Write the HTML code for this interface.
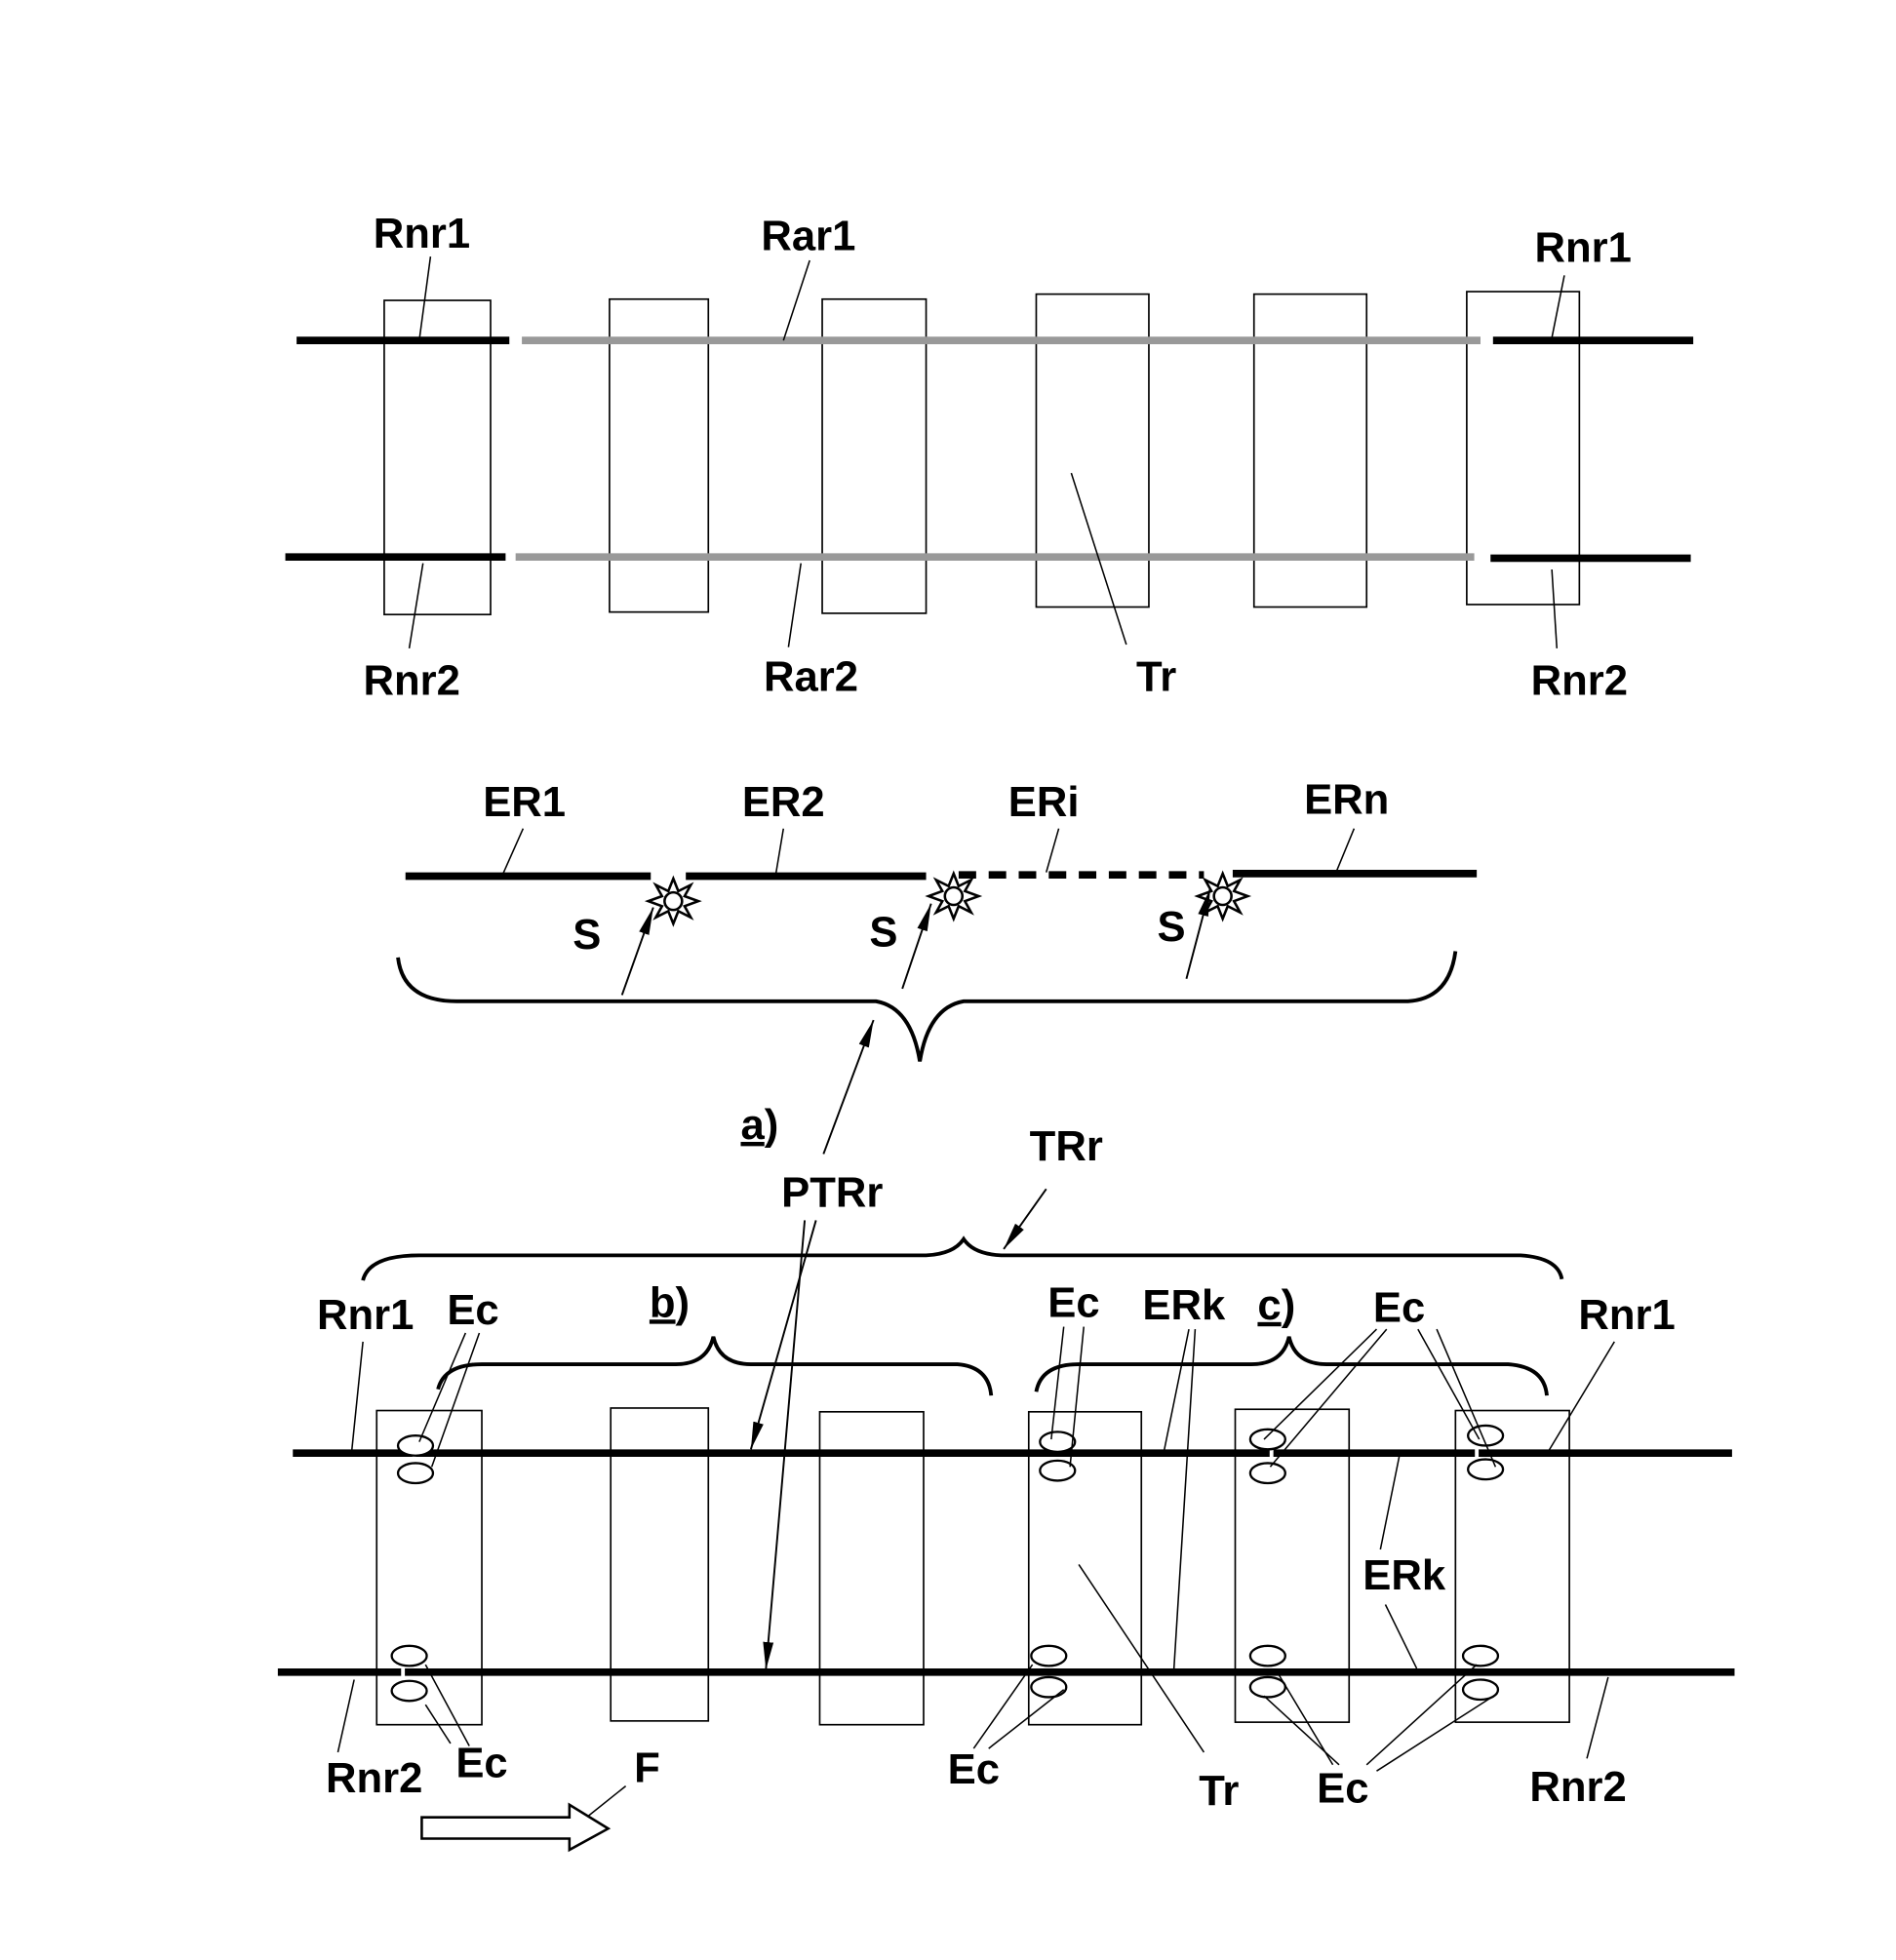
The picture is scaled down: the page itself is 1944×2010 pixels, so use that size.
<!DOCTYPE html>
<html><head><meta charset="utf-8"><style>
html,body{margin:0;padding:0;background:#fff;}
svg{display:block;}
text{font-family:"Liberation Sans",Arial,sans-serif;font-weight:bold;font-size:34px;fill:#000;text-anchor:middle;}
</style></head><body>
<svg width="1944" height="2010" viewBox="0 0 1515 1566" preserveAspectRatio="none" xmlns="http://www.w3.org/2000/svg">
<defs>
<marker id="ahl" viewBox="0 0 10 10" refX="10" refY="5" markerWidth="22" markerHeight="12" markerUnits="userSpaceOnUse" orient="auto" preserveAspectRatio="none"><path d="M0,1.5 L10,5 L0,8.5 z" fill="#000"/></marker>
</defs>
<g fill="none" stroke="#000" stroke-width="1.3">
<rect x="307" y="240" width="85" height="251"/>
<rect x="487" y="239" width="79" height="250"/>
<rect x="657" y="239" width="83" height="251"/>
<rect x="828" y="235" width="90" height="250"/>
<rect x="1002" y="235" width="90" height="250"/>
<rect x="1172" y="233" width="90" height="250"/>
</g>
<g stroke-width="6">
<line x1="237" y1="272" x2="407" y2="272" stroke="#000"/>
<line x1="228" y1="445" x2="404" y2="445" stroke="#000"/>
<line x1="417" y1="272" x2="1183" y2="272" stroke="#999"/>
<line x1="412" y1="445" x2="1178" y2="445" stroke="#999"/>
<line x1="1193" y1="272" x2="1353" y2="272" stroke="#000"/>
<line x1="1191" y1="446" x2="1351" y2="446" stroke="#000"/>
</g>
<g stroke="#000" stroke-width="1.2">
<line x1="344" y1="205" x2="335" y2="272"/>
<line x1="647" y1="208" x2="626" y2="272"/>
<line x1="1250" y1="220" x2="1240" y2="270"/>
<line x1="327" y1="518" x2="338" y2="450"/>
<line x1="630" y1="517" x2="640" y2="450"/>
<line x1="900" y1="515" x2="856" y2="378"/>
<line x1="1244" y1="518" x2="1240" y2="455"/>
</g>
<text x="337" y="198">Rnr1</text>
<text x="646" y="200">Rar1</text>
<text x="1265" y="209">Rnr1</text>
<text x="329" y="555">Rnr2</text>
<text x="648" y="552">Rar2</text>
<text x="924" y="552">Tr</text>
<text x="1262" y="555">Rnr2</text>

<g stroke="#000" stroke-width="6">
<line x1="324" y1="700" x2="520" y2="700"/>
<line x1="548" y1="700" x2="740" y2="700"/>
<line x1="766" y1="699" x2="962" y2="699" stroke-dasharray="14,10"/>
<line x1="985" y1="698" x2="1180" y2="698"/>
</g>
<g stroke="#000" stroke-width="1.2">
<line x1="418" y1="662" x2="402" y2="698"/>
<line x1="626" y1="662" x2="620" y2="698"/>
<line x1="846" y1="662" x2="836" y2="697"/>
<line x1="1082" y1="662" x2="1068" y2="696"/>
</g>
<text x="419" y="652">ER1</text>
<text x="626" y="652">ER2</text>
<text x="834" y="652">ERi</text>
<text x="1076" y="650">ERn</text>
<g fill="#fff" stroke="#000" stroke-width="2">
<polygon points="538,702 542,712 552,707 547,716 558,720 547,724 552,733 542,728 538,738 534,728 524,733 529,724 518,720 529,716 524,707 534,712"/>
<circle cx="538" cy="720" r="7"/>
<polygon points="762,698 766,708 776,703 771,712 782,716 771,720 776,729 766,724 762,734 758,724 748,729 753,720 742,716 753,712 748,703 758,708"/>
<circle cx="762" cy="716" r="7"/>
<polygon points="977,698 981,708 991,703 986,712 997,716 986,720 991,729 981,724 977,734 973,724 963,729 968,720 957,716 968,712 963,703 973,708"/>
<circle cx="977" cy="716" r="7"/>
</g>
<g stroke="#000" stroke-width="1.5">
<line x1="497" y1="795" x2="522" y2="725" marker-end="url(#ahl)"/>
<line x1="721" y1="790" x2="744" y2="722" marker-end="url(#ahl)"/>
<line x1="948" y1="782" x2="967" y2="710" marker-end="url(#ahl)"/>
</g>
<text x="469" y="758">S</text>
<text x="706" y="756">S</text>
<text x="936" y="752">S</text>
<path d="M318,765 Q322,800 365,800 L700,800 Q728,805 735,848 Q742,805 770,800 L1125,800 Q1158,798 1163,760" fill="none" stroke="#000" stroke-width="3"/>

<line x1="658" y1="922" x2="698" y2="815" stroke="#000" stroke-width="1.5" marker-end="url(#ahl)"/>
<text x="607" y="910"><tspan text-decoration="underline">a</tspan>)</text>
<text x="665" y="964">PTRr</text>
<text x="852" y="927">TRr</text>
<line x1="836" y1="950" x2="802" y2="998" stroke="#000" stroke-width="1.5" marker-end="url(#ahl)"/>
<line x1="652" y1="975" x2="600" y2="1158" stroke="#000" stroke-width="1.5" marker-end="url(#ahl)"/>
<line x1="643" y1="975" x2="612" y2="1334" stroke="#000" stroke-width="1.5" marker-end="url(#ahl)"/>

<g fill="none" stroke="#000" stroke-width="3">
<path d="M290,1023 Q295,1003 335,1003 L740,1003 Q762,1002 770,990 Q778,1002 800,1003 L1215,1003 Q1245,1005 1248,1022"/>
<path d="M350,1110 Q355,1090 385,1090 L540,1090 Q565,1090 570,1068 Q575,1090 600,1090 L765,1090 Q790,1092 792,1115"/>
<path d="M828,1112 Q832,1090 862,1090 L1000,1090 Q1025,1090 1030,1068 Q1035,1090 1060,1090 L1205,1090 Q1234,1092 1236,1115"/>
</g>

<g fill="none" stroke="#000" stroke-width="1.3">
<rect x="301" y="1127" width="84" height="251"/>
<rect x="488" y="1125" width="78" height="250"/>
<rect x="655" y="1128" width="83" height="250"/>
<rect x="822" y="1128" width="90" height="250"/>
<rect x="987" y="1126" width="91" height="250"/>
<rect x="1163" y="1127" width="91" height="249"/>
</g>
<g stroke="#000" stroke-width="6">
<line x1="234" y1="1161" x2="1384" y2="1161"/>
<line x1="222" y1="1336" x2="1386" y2="1336"/>
</g>
<g stroke="#fff" stroke-width="3">
<line x1="331" y1="1157" x2="331" y2="1165"/>
<line x1="322" y1="1332" x2="322" y2="1340"/>
<line x1="1016" y1="1157" x2="1016" y2="1165"/>
<line x1="1180" y1="1157" x2="1180" y2="1165"/>
</g>
<g fill="#fff" stroke="#000" stroke-width="1.8">
<ellipse cx="332" cy="1155" rx="14" ry="8"/>
<ellipse cx="332" cy="1177" rx="14" ry="8"/>
<ellipse cx="845" cy="1152" rx="14" ry="8"/>
<ellipse cx="845" cy="1175" rx="14" ry="8"/>
<ellipse cx="1013" cy="1150" rx="14" ry="8"/>
<ellipse cx="1013" cy="1177" rx="14" ry="8"/>
<ellipse cx="1187" cy="1147" rx="14" ry="8"/>
<ellipse cx="1187" cy="1174" rx="14" ry="8"/>
<ellipse cx="327" cy="1323" rx="14" ry="8"/>
<ellipse cx="327" cy="1351" rx="14" ry="8"/>
<ellipse cx="838" cy="1323" rx="14" ry="8"/>
<ellipse cx="838" cy="1348" rx="14" ry="8"/>
<ellipse cx="1013" cy="1323" rx="14" ry="8"/>
<ellipse cx="1013" cy="1348" rx="14" ry="8"/>
<ellipse cx="1183" cy="1323" rx="14" ry="8"/>
<ellipse cx="1183" cy="1350" rx="14" ry="8"/>
</g>
<g stroke="#000" stroke-width="1.2">
<line x1="290" y1="1072" x2="281" y2="1160"/>
<line x1="372" y1="1065" x2="335" y2="1152"/>
<line x1="383" y1="1065" x2="345" y2="1172"/>
<line x1="850" y1="1060" x2="840" y2="1150"/>
<line x1="866" y1="1060" x2="855" y2="1172"/>
<line x1="950" y1="1062" x2="930" y2="1160"/>
<line x1="955" y1="1062" x2="938" y2="1334"/>
<line x1="1100" y1="1062" x2="1010" y2="1150"/>
<line x1="1108" y1="1062" x2="1015" y2="1172"/>
<line x1="1133" y1="1062" x2="1182" y2="1150"/>
<line x1="1148" y1="1062" x2="1195" y2="1172"/>
<line x1="1290" y1="1072" x2="1237" y2="1160"/>
<line x1="1103" y1="1238" x2="1118" y2="1164"/>
<line x1="1107" y1="1282" x2="1132" y2="1333"/>
<line x1="962" y1="1400" x2="862" y2="1250"/>
<line x1="375" y1="1395" x2="340" y2="1330"/>
<line x1="360" y1="1393" x2="340" y2="1362"/>
<line x1="778" y1="1397" x2="825" y2="1330"/>
<line x1="790" y1="1397" x2="850" y2="1350"/>
<line x1="1065" y1="1410" x2="1020" y2="1335"/>
<line x1="1070" y1="1410" x2="1010" y2="1355"/>
<line x1="1092" y1="1410" x2="1180" y2="1330"/>
<line x1="1100" y1="1415" x2="1192" y2="1356"/>
<line x1="270" y1="1400" x2="283" y2="1342"/>
<line x1="1268" y1="1405" x2="1285" y2="1340"/>
<line x1="500" y1="1427" x2="465" y2="1455"/>
</g>
<text x="292" y="1062">Rnr1</text>
<text x="378" y="1058">Ec</text>
<text x="535" y="1052"><tspan text-decoration="underline">b</tspan>)</text>
<text x="858" y="1052">Ec</text>
<text x="946" y="1054">ERk</text>
<text x="1020" y="1054"><tspan text-decoration="underline">c</tspan>)</text>
<text x="1118" y="1056">Ec</text>
<text x="1300" y="1062">Rnr1</text>
<text x="1122" y="1270">ERk</text>
<text x="299" y="1432">Rnr2</text>
<text x="385" y="1420">Ec</text>
<text x="517" y="1424">F</text>
<text x="778" y="1425">Ec</text>
<text x="974" y="1442">Tr</text>
<text x="1073" y="1440">Ec</text>
<text x="1261" y="1439">Rnr2</text>
<path d="M337,1452 L455,1452 L455,1442 L486,1461 L455,1478 L455,1469 L337,1469 Z" fill="#fff" stroke="#000" stroke-width="2"/>
</svg>
</body></html>
